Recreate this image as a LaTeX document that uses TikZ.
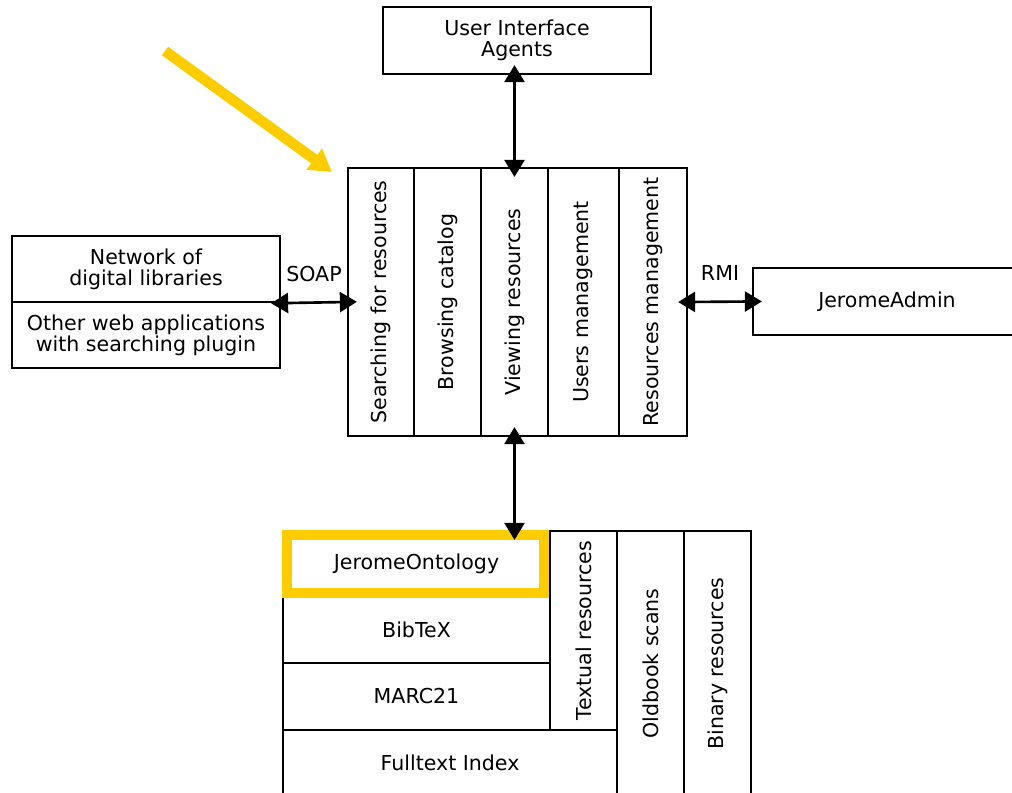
\documentclass[tikz,border=0pt]{standalone}
\usepackage{fontspec}
\setmainfont{DejaVu Sans}
\usetikzlibrary{arrows.meta,calc}

\definecolor{hiyellow}{RGB}{255,204,0}

\tikzset{
  box/.style={draw, line width=1.3pt, inner sep=0pt, align=center,
    minimum width=5.36cm, minimum height=1.34cm},
  col/.style={draw, line width=1.3pt, inner sep=0pt,
    minimum width=1.34cm, minimum height=5.36cm},
  vtext/.style={rotate=90, inner sep=0pt},
  link/.style={line width=1.5pt, {Triangle[length=0.34cm,width=0.4cm]}-{Triangle[length=0.34cm,width=0.4cm]},
    shorten <=-0.2cm, shorten >=-0.2cm},
  hilite/.style={draw=hiyellow, line width=0.2cm}
}

\begin{document}
\begin{tikzpicture}[x=0.02cm, y=-0.02cm, font=\fontsize{11.7}{11.9}\selectfont]
\useasboundingbox (0,0) rectangle (1012,793);

% top
\node[box] (ui) at (517,40.5) {User Interface\\Agents};

% services
\node[col, minimum width=1.32cm] (search) at (381,302) {};
\node[col] (browse) at (447.5,302) {};
\node[col] (view) at (514.5,302) {};
\node[col, minimum width=1.42cm] (users) at (583.5,302) {};
\node[col, minimum width=1.36cm] (resmgmt) at (653,302) {};
\node[vtext] at (search) {Searching for resources};
\node[vtext] at (browse) {Browsing catalog};
\node[vtext] at (view) {Viewing resources};
\node[vtext] at (users) {Users management};
\node[vtext] at (resmgmt) {Resources management};

% left and right
\node[box, minimum height=1.32cm] (net) at (146,269) {Network of\\digital libraries};
\node[box, minimum height=1.32cm] (other) at (146,335) {Other web applications\\with searching plugin};
\node[box] (admin) at (887,301.5) {JeromeAdmin};

% storage
\node[box, minimum width=5.34cm, minimum height=1.32cm] (onto) at (416.5,564) {JeromeOntology};
\node[box, minimum width=5.34cm, minimum height=1.32cm] (bib) at (416.5,630) {BibTeX};
\node[box, minimum width=5.34cm] (marc) at (416.5,696.5) {MARC21};
\node[box, minimum width=6.68cm, minimum height=1.32cm] (full) at (450,763) {Fulltext Index};
\node[col, minimum height=3.98cm] (textual) at (583.5,630.5) {};
\node[col, minimum height=5.3cm] (oldbook) at (650.5,663.5) {};
\node[col, minimum height=5.3cm] (binary) at (717.5,663.5) {};
\node[vtext] at (textual) {Textual resources};
\node[vtext] at (oldbook) {Oldbook scans};
\node[vtext] at (binary) {Binary resources};

\draw[hilite] ($(onto.north west)+(5,5)$) rectangle ($(onto.south east)+(-7,-5)$);

% links
\draw[link] (ui.south -| view) -- (view.north);
\draw[link] (view.south) -- (view.south |- onto.north);
\draw[link] (net.south east) -- (search.west) node[midway, above=8pt] {SOAP};
\draw[link] (resmgmt.east) -- (admin.west) node[midway, above=8pt] {RMI};

\draw[hiyellow, line width=0.21cm, -{Triangle[length=0.44cm,width=0.5cm]}] (165,51) -- (332,172);

\end{tikzpicture}
\end{document}
